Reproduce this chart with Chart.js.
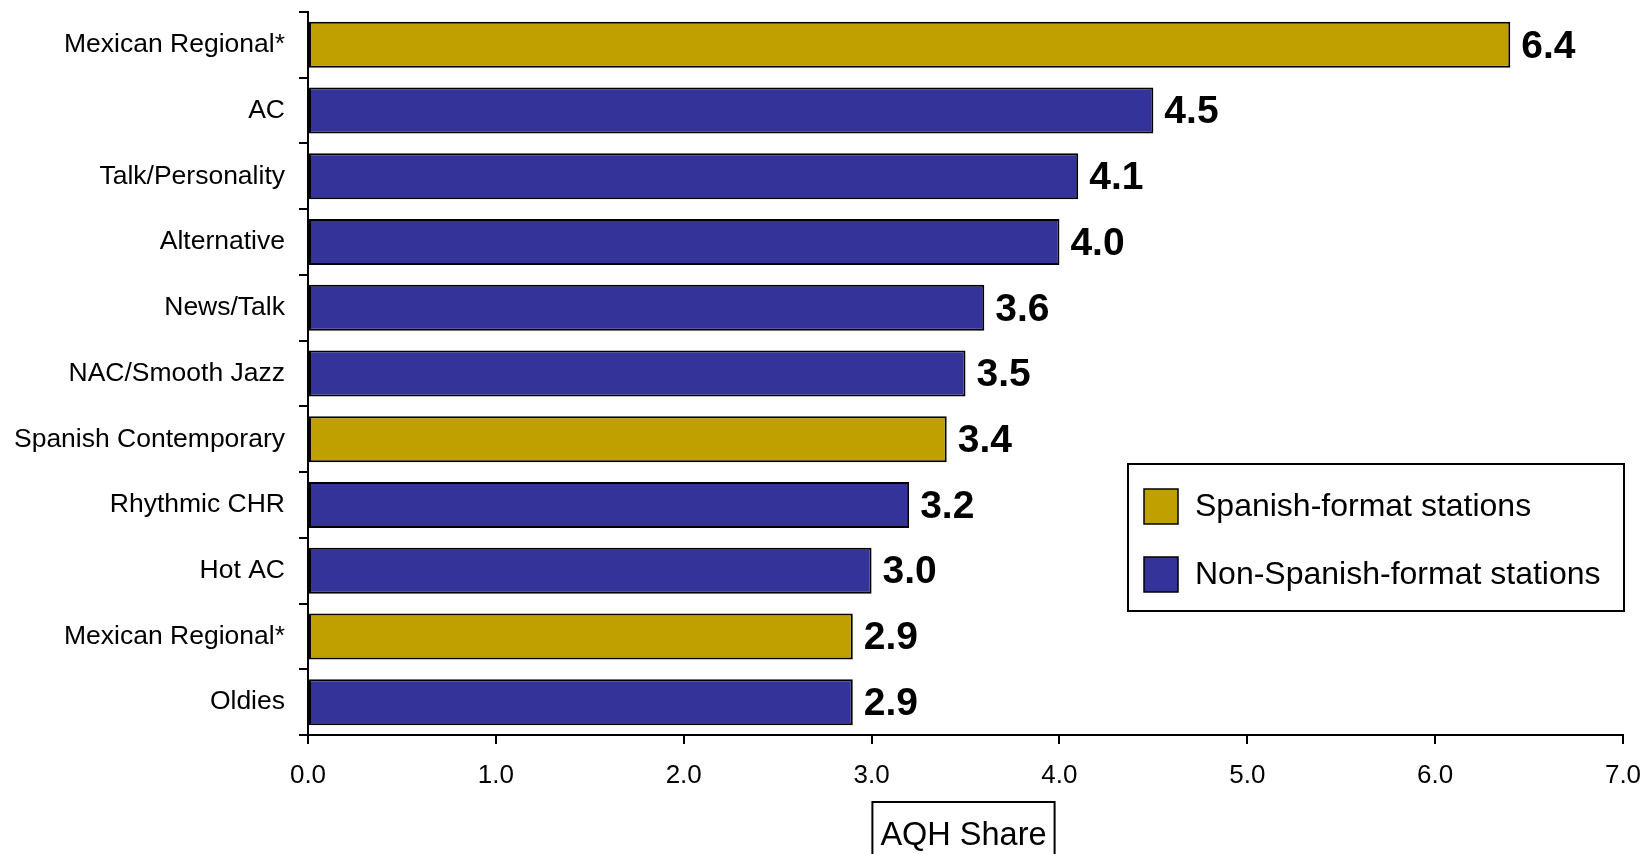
<!DOCTYPE html>
<html>
<head>
<meta charset="utf-8">
<script src="https://cdn.jsdelivr.net/npm/chart.js@4"></script>
<style>
  html, body { margin: 0; padding: 0; background: #fff; }
</style>
</head>
<body>
<canvas id="myChart" width="1650" height="854"></canvas>
<script>
// radio formats, top to bottom
const formats = ['Mexican Regional*', 'AC', 'Talk/Personality', 'Alternative', 'News/Talk',
  'NAC/Smooth Jazz', 'Spanish Contemporary', 'Rhythmic CHR', 'Hot AC', 'Mexican Regional*', 'Oldies'];
const shares = [6.4, 4.5, 4.1, 4.0, 3.6, 3.5, 3.4, 3.2, 3.0, 2.9, 2.9];
// 'sp' = Spanish-format, 'non' = Non-Spanish-format
const stationType = ['sp', 'non', 'non', 'non', 'non', 'non', 'sp', 'non', 'non', 'sp', 'non'];
const legendTypes = ['sp', 'non'];
const legendLabels = ['Spanish-format stations', 'Non-Spanish-format stations'];
const xTicks = [0, 1, 2, 3, 4, 5, 6, 7];
const axisTitle = 'AQH Share';

const typeColors = { sp: '#C0A000', non: '#333399' };
const FONT = '"Liberation Sans", Arial, Helvetica, sans-serif';

// numbers at the end of each bar
const valueLabels = {
  id: 'valueLabels',
  afterDatasetsDraw(chart) {
    const ctx = chart.ctx;
    const meta = chart.getDatasetMeta(0);
    ctx.save();
    ctx.font = 'bold 39px ' + FONT;
    ctx.fillStyle = '#000';
    ctx.textBaseline = 'middle';
    ctx.textAlign = 'left';
    meta.data.forEach((bar, i) => {
      ctx.fillText(shares[i].toFixed(1), bar.x + 11, bar.y + 2);
    });
    ctx.restore();
  }
};

// boxed legend in the lower right + boxed axis title
const boxes = {
  id: 'boxes',
  afterDraw(chart) {
    const ctx = chart.ctx;
    const ca = chart.chartArea;
    ctx.save();

    // legend
    const lx = 1128, ly = 464, lw = ca.right - 1128 + 1, lh = 147;
    ctx.fillStyle = '#fff';
    ctx.fillRect(lx, ly, lw, lh);
    ctx.strokeStyle = '#000';
    ctx.lineWidth = 2;
    ctx.strokeRect(lx, ly, lw, lh);
    ctx.font = '32px ' + FONT;
    ctx.textBaseline = 'middle';
    legendLabels.forEach((txt, i) => {
      const cy = 506 + i * 68;
      ctx.fillStyle = typeColors[legendTypes[i]];
      ctx.fillRect(1144, cy - 17, 34, 35);
      ctx.lineWidth = 1.5;
      ctx.strokeStyle = '#000';
      ctx.strokeRect(1144, cy - 17, 34, 35);
      ctx.fillStyle = '#000';
      ctx.fillText(txt, 1195, cy + 1);
    });

    // axis title
    ctx.font = '32.5px ' + FONT;
    const tw = ctx.measureText(axisTitle).width;
    const cx = (ca.left + ca.right) / 2 - 2;
    ctx.lineWidth = 2;
    ctx.strokeRect(cx - tw / 2 - 8, 802, tw + 16, 70);
    ctx.textAlign = 'center';
    ctx.textBaseline = 'alphabetic';
    ctx.fillText(axisTitle, cx, 845);
    ctx.restore();
  }
};

new Chart(document.getElementById('myChart'), {
  type: 'bar',
  data: {
    labels: formats,
    datasets: [{
      data: shares,
      backgroundColor: stationType.map(t => typeColors[t]),
      borderColor: '#000',
      borderWidth: 2,
      borderSkipped: false,
      categoryPercentage: 1,
      barPercentage: 0.7
    }]
  },
  options: {
    indexAxis: 'y',
    responsive: false,
    animation: false,
    layout: { padding: { top: 12, right: 27, bottom: 0, left: 0 } },
    plugins: {
      legend: { display: false },
      tooltip: { enabled: false }
    },
    scales: {
      y: {
        afterFit(scale) {
          scale.width = 308;
          scale.paddingTop = 0;
          scale.paddingBottom = 0;
        },
        grid: { drawOnChartArea: false, tickLength: 9, color: '#000', lineWidth: 2 },
        border: { color: '#000', width: 2 },
        ticks: { color: '#000', padding: 14, font: { family: FONT, size: 26.5 } }
      },
      x: {
        min: xTicks[0],
        max: xTicks[xTicks.length - 1],
        afterFit(scale) {
          scale.height = 119;
          scale.paddingLeft = 0;
          scale.paddingRight = 0;
        },
        afterBuildTicks(scale) { scale.ticks = xTicks.map(v => ({ value: v })); },
        grid: { drawOnChartArea: false, tickLength: 9, color: '#000', lineWidth: 2 },
        border: { color: '#000', width: 2 },
        ticks: {
          color: '#000', padding: 16, maxRotation: 0,
          font: { family: FONT, size: 26 },
          callback: v => Number(v).toFixed(1)
        }
      }
    }
  },
  plugins: [valueLabels, boxes]
});
</script>
</body>
</html>
